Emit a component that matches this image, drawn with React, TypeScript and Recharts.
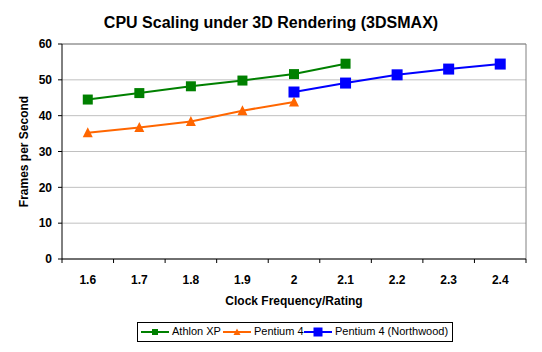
import React from "react";
import { LineChart, Line, XAxis, YAxis, CartesianGrid, ReferenceLine } from "recharts";

const clockRatings = [1.6, 1.7, 1.8, 1.9, 2.0, 2.1, 2.2, 2.3, 2.4];
const athlonXP = [44.5, 46.3, 48.2, 49.8, 51.6, 54.5, null, null, null];
const pentium4 = [35.2, 36.7, 38.4, 41.4, 43.8, null, null, null, null];
const northwood = [null, null, null, null, 46.6, 49.1, 51.4, 53.0, 54.4];
const yTicks = [0, 10, 20, 30, 40, 50, 60];

const data = clockRatings.map((x, i) => ({
  x,
  athlon: athlonXP[i],
  p4: pentium4[i],
  nw: northwood[i],
}));

const FONT = '"Liberation Sans", Arial, sans-serif';
const W = 542;
const H = 352;
const PLOT_LEFT = 62;
const PLOT_RIGHT = 526;
const PLOT_TOP = 44;
const PLOT_BOTTOM = 259;
const HALF = (PLOT_RIGHT - PLOT_LEFT) / clockRatings.length / 2;

const Square = (size: number) => (props: any) => {
  const { cx, cy, stroke, index } = props;
  if (cx == null || cy == null || props.value == null || (Array.isArray(props.value) && props.value[1] == null)) return <g key={index} />;
  return <rect key={index} x={cx - size / 2} y={cy - size / 2} width={size} height={size} fill={stroke} />;
};

const Triangle = (size: number) => (props: any) => {
  const { cx, cy, stroke, index } = props;
  if (cx == null || cy == null || props.value == null || (Array.isArray(props.value) && props.value[1] == null)) return <g key={index} />;
  const h = size;
  return (
    <polygon
      key={index}
      points={`${cx},${cy - h * 0.55} ${cx - size / 2},${cy + h * 0.45} ${cx + size / 2},${cy + h * 0.45}`}
      fill={stroke}
    />
  );
};

const XTick = (props: any) => {
  const { x, payload, index } = props;
  const y = PLOT_BOTTOM;
  const last = index === clockRatings.length - 1;
  return (
    <g>
      <line x1={x - HALF} x2={x - HALF} y1={y} y2={y + 4} stroke="#000" />
      {last && <line x1={x + HALF} x2={x + HALF} y1={y} y2={y + 4} stroke="#000" />}
      <text x={x} y={y + 25} textAnchor="middle" fontFamily={FONT} fontWeight="bold" fontSize={12} fill="#000">
        {String(payload.value)}
      </text>
    </g>
  );
};

export default function App() {
  return (
    <div style={{ position: "absolute", left: 0, top: 0, width: W, height: H, background: "#fff" }}>
      <div
        style={{
          position: "absolute",
          left: 0,
          top: 14,
          width: W,
          textAlign: "center",
          fontFamily: FONT,
          fontWeight: "bold",
          fontSize: 16,
          lineHeight: "normal",
          color: "#000",
        }}
      >
        CPU Scaling under 3D Rendering (3DSMAX)
      </div>
      <LineChart
        width={W}
        height={H}
        data={data}
        margin={{ top: PLOT_TOP, right: W - PLOT_RIGHT, bottom: 0, left: 0 }}
      >
        <CartesianGrid horizontal vertical={false} stroke="#c0c0c0" />
        <XAxis
          dataKey="x"
          type="number"
          domain={[1.55, 2.45]}
          ticks={clockRatings}
          height={H - PLOT_BOTTOM}
          axisLine={{ stroke: "#000" }}
          tickLine={false}
          tickSize={0}
          tickMargin={0}
          tick={<XTick />}
          interval={0}
          label={{
            content: (p: any) => {
              const vb = p.viewBox;
              return (
                <text x={vb.x + vb.width / 2} y={vb.y + 46} textAnchor="middle" fontFamily={FONT} fontWeight="bold" fontSize={12} fill="#000">
                  Clock Frequency/Rating
                </text>
              );
            },
          }}
        />
        <YAxis
          domain={[0, 60]}
          ticks={yTicks}
          width={PLOT_LEFT}
          axisLine={{ stroke: "#000" }}
          tickLine={{ stroke: "#000" }}
          tickSize={4}
          tickMargin={6}
          tick={{ fontFamily: FONT, fontWeight: "bold", fontSize: 12, fill: "#000" }}
          label={{
            content: (p: any) => {
              const vb = p.viewBox;
              const cy = vb.y + vb.height / 2;
              return (
                <text
                  x={24}
                  y={cy}
                  transform={`rotate(-90, 24, ${cy})`}
                  textAnchor="middle"
                  dominantBaseline="central"
                  fontFamily={FONT}
                  fontWeight="bold"
                  fontSize={12}
                  fill="#000"
                >
                  Frames per Second
                </text>
              );
            },
          }}
        />
        <ReferenceLine y={60} stroke="#808080" />
        <ReferenceLine x={2.45} stroke="#808080" />
        <Line dataKey="athlon" stroke="#008000" strokeWidth={2} dot={Square(10)} isAnimationActive={false} />
        <Line dataKey="p4" stroke="#ff6600" strokeWidth={2} dot={Triangle(10)} isAnimationActive={false} />
        <Line dataKey="nw" stroke="#0000ff" strokeWidth={2} dot={Square(11)} isAnimationActive={false} />
      </LineChart>
      <div
        style={{
          position: "absolute",
          left: 137,
          top: 322,
          width: 316,
          height: 20,
          border: "1px solid #000",
          boxSizing: "border-box",
          fontFamily: FONT,
          fontSize: 11,
          color: "#000",
        }}
      >
        <svg style={{ position: "absolute", left: 0, top: 0 }} width={314} height={18}>
          <line x1={3} x2={31} y1={9} y2={9} stroke="#008000" strokeWidth={2} />
          <rect x={14} y={6} width={6} height={6} fill="#008000" />
          <line x1={85} x2={113} y1={9} y2={9} stroke="#ff6600" strokeWidth={2} />
          <polygon points="99,5.5 95.5,12 102.5,12" fill="#ff6600" />
          <line x1={166} x2={194} y1={9} y2={9} stroke="#0000ff" strokeWidth={2} />
          <rect x={175.5} y={4.5} width={9} height={9} fill="#0000ff" />
        </svg>
        <span style={{ position: "absolute", left: 34, top: 2, lineHeight: "13px", whiteSpace: "nowrap" }}>Athlon XP</span>
        <span style={{ position: "absolute", left: 116, top: 2, lineHeight: "13px", whiteSpace: "nowrap" }}>Pentium 4</span>
        <span style={{ position: "absolute", left: 197, top: 2, lineHeight: "13px", whiteSpace: "nowrap" }}>Pentium 4 (Northwood)</span>
      </div>
    </div>
  );
}
